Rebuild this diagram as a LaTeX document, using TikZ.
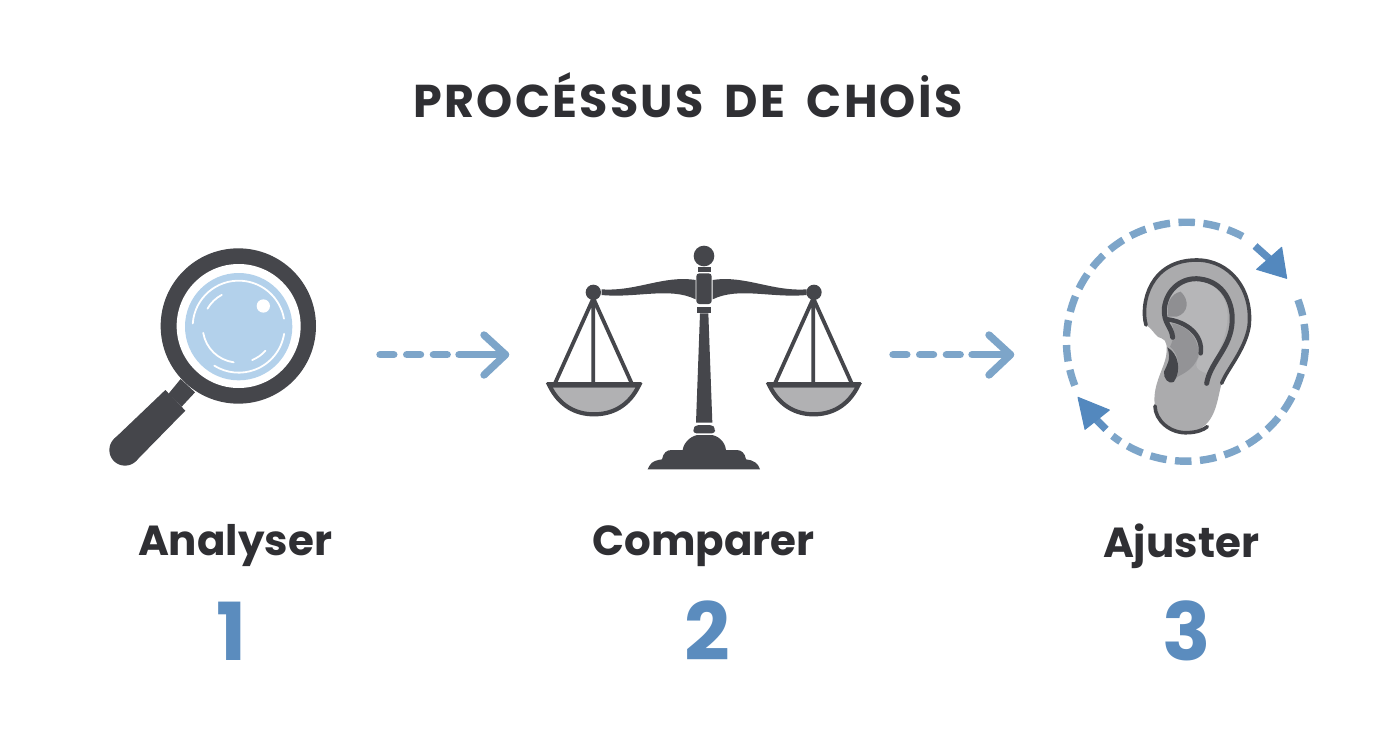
\documentclass[tikz,border=0pt]{standalone}
\usepackage{fontspec}
\setmainfont{Poppins}
\usetikzlibrary{calc}
\definecolor{ink}{HTML}{2F2F33}
\definecolor{dark}{HTML}{45464B}
\definecolor{numblue}{HTML}{5B8CBE}
\definecolor{dashblue}{HTML}{7DA5C9}
\definecolor{headblue}{HTML}{5388BE}
\definecolor{lens}{HTML}{B3D1EB}
\definecolor{pan}{HTML}{B1B1B3}
\definecolor{earfill}{HTML}{ABABAD}
\definecolor{earlight}{HTML}{B6B6B8}
\definecolor{earshade}{HTML}{8F8F92}
\tikzset{
  titletext/.style={font=\fontsize{46}{50}\selectfont\bfseries\addfontfeatures{LetterSpace=5},text=ink,inner sep=0pt},
  labeltext/.style={font=\fontsize{42}{46}\selectfont\bfseries,text=ink,inner sep=0pt},
  numtext/.style={font=\fontsize{80}{84}\selectfont\bfseries,text=numblue,inner sep=0pt},
  dashline/.style={draw=dashblue,line width=7.4pt,line cap=round,dash pattern=on 13.8pt off 12.9pt},
  solidline/.style={draw=dashblue,line width=7.4pt,line cap=round,line join=round},
  zoomed/.style={x=0.33333pt,y=-0.33333pt},
  string/.style={draw=dark,line width=3.8pt},
  earline/.style={draw=dark,line width=3.6pt,line cap=round},
  ringdash/.style={draw=dashblue,line width=7.4pt,dash pattern=on 16.5pt off 8.5pt},
  lensline/.style={white,line width=1.8pt,line cap=round},
  ringshaft/.style={draw=headblue!75!dashblue,line width=7.4pt},
  ringhead/.style={fill=headblue,draw=headblue,line width=1pt,line join=round},
}
\begin{document}
\begin{tikzpicture}[x=1pt,y=-1pt]
\useasboundingbox (0,0) rectangle (1392,752);
\fill[white] (0,0) rectangle (1392,752);

% ---- texts
\node[titletext] (title) at (688,95) {PROC\'ESSUS\hspace{9pt} DE\hspace{9pt} CHO\.IS};
\node[labeltext] (l1) at (235,546) {Analyser};
\node[labeltext] (l2) at (703.5,546) {Comparer};
\node[labeltext] (l3) at (1181,546) {Ajuster};
\node[numtext] (n1) at (232,631) {1};
\node[numtext] (n2) at (707,631) {2};
\node[numtext] (n3) at (1187,631) {3};

% ---- magnifier
\begin{scope}[shift={(90,230)},zoomed]
  \fill[dark] (272,447) -- (315,487) -- (275,530) -- (235,492) -- cycle;
  \fill[dark] (226,480) -- (286,542) -- (138,693) -- (72,627) -- cycle;
  \fill[dark] (105,660) circle (47);
  \fill[dark] (445,288) circle (233);
  \fill[white] (446,288) circle (186);
  \fill[lens] (446,290) circle (161);
  \draw[lensline] (446,290) ++(-176:138) arc[start angle=-176,end angle=-10,radius=138];
  \draw[lensline] (446,290) ++(9:138) arc[start angle=9,end angle=122,radius=138];
  \draw[lensline] (446,290) ++(170:108) arc[start angle=170,end angle=98,radius=108];
  \draw[lensline] (446,290) ++(68:108) arc[start angle=68,end angle=42,radius=108];
  \draw[lensline] (446,290) ++(-150:108) arc[start angle=-150,end angle=-118,radius=108];
  \fill[white] (520,228) circle (20);
\end{scope}

% ---- scales
\begin{scope}[shift={(530,230)},zoomed]
  \foreach \cx/\a/\b in {190/75/305,850/735/965}{
    \draw[string] (\cx,205) -- (\a,460) (\cx,205) -- (\cx,462) (\cx,205) -- (\b,460);
  }
  \foreach \l/\r/\cx in {50/335/192,710/993/851}{
    \draw[dark,fill=pan,line width=4.2pt] (\l+8,466) .. controls (\l+38,528) and (\l+88,553) .. (\cx,553) .. controls (\r-88,553) and (\r-38,528) .. (\r-8,466) -- cycle;
    \fill[dark] (\l,456) -- (\r,456) -- (\r-6,472) -- (\l+6,472) -- cycle;
  }
  \fill[dark] (215,178) .. controls (320,185) and (400,135) .. (497,150) -- (497,208) .. controls (420,170) and (320,205) .. (215,195) -- cycle;
  \fill[dark] (830,178) .. controls (725,185) and (645,135) .. (548,150) -- (548,208) .. controls (625,170) and (725,205) .. (830,195) -- cycle;
  \fill[dark] (190,187) circle (23);
  \fill[dark] (852,187) circle (23);
  \fill[dark] (522,78) circle (31);
  \fill[dark] (503,110) rectangle (543,125);
  \fill[dark,rounded corners=3pt] (499,130) rectangle (545,222);
  \fill[dark] (500,230) rectangle (543,248);
  \fill[dark] (510,250) -- (535,250) -- (547,578) -- (498,578) -- cycle;
  \fill[dark,rounded corners=3pt] (490,610) -- (490,595) -- (498,585) -- (547,585) -- (555,595) -- (555,610) -- cycle;
  \fill[dark] (353,718) -- (358,708) .. controls (365,692) and (385,690) .. (396,688)
     .. controls (400,668) and (410,660) .. (425,660) -- (458,660)
     .. controls (462,632) and (490,615) .. (505,615) -- (542,615)
     .. controls (560,615) and (585,632) .. (588,660) -- (620,660)
     .. controls (635,660) and (645,670) .. (648,688)
     .. controls (670,690) and (685,700) .. (690,718) -- cycle;
\end{scope}

% ---- ear
\begin{scope}[shift={(1050,210)},zoomed]
  \fill[earfill] (288,345) .. controls (270,280) and (300,150) .. (440,150) .. controls (540,150) and (610,240) .. (597,350) .. controls (585,420) and (530,480) .. (515,520) .. controls (500,570) and (500,650) .. (420,668) .. controls (360,672) and (315,640) .. (315,590) .. controls (305,530) and (340,480) .. (348,440) .. controls (352,415) and (352,390) .. (335,385) .. controls (318,385) and (312,360) .. (288,345) -- cycle;
  \fill[earlight] (362,350) .. controls (330,290) and (370,215) .. (440,212) .. controls (500,215) and (545,270) .. (530,350) .. controls (520,410) and (490,450) .. (470,490) .. controls (440,480) and (430,470) .. (448,440) .. controls (470,390) and (420,330) .. (362,325) -- cycle;
  \fill[earshade] (355,320) .. controls (345,280) and (365,250) .. (392,245) .. controls (420,270) and (415,310) .. (380,320) -- cycle;
  \fill[earshade!85!earfill] (365,340) .. controls (420,350) and (450,390) .. (445,440) .. controls (430,480) and (400,490) .. (375,505) .. controls (392,470) and (385,430) .. (360,410) .. controls (372,385) and (375,365) .. (365,340) -- cycle;
  \draw[earline] (288,345) .. controls (270,280) and (300,150) .. (440,150) .. controls (540,150) and (610,240) .. (597,350) .. controls (585,420) and (530,480) .. (515,520);
  \draw[earline] (315,588) .. controls (315,630) and (360,672) .. (415,668) .. controls (440,667) and (460,660) .. (472,650);
  \draw[earline,line width=5pt] (368,382) .. controls (365,350) and (340,340) .. (343,295) .. controls (350,235) and (400,200) .. (450,207) .. controls (520,215) and (555,280) .. (545,350) .. controls (535,420) and (480,460) .. (470,520);
  \draw[earline,line width=4.5pt] (352,328) .. controls (410,335) and (460,375) .. (452,430);
  \fill[dark] (352,412) .. controls (385,430) and (395,480) .. (372,515) .. controls (355,525) and (340,505) .. (342,485) .. controls (350,465) and (365,450) .. (352,412) -- cycle;
  % arrowheads of the cycle
  \coordinate (h1b) at (615,108);
  \coordinate (h1e) at (662,150);
  \draw[ringshaft] (h1b) -- (h1e);
  \fill[ringhead] (695,112) -- (710,205) -- (620,178) -- cycle;
  \coordinate (h2b) at (168,658);
  \coordinate (h2e) at (125,615);
  \draw[ringshaft] (h2b) -- (h2e);
  \fill[ringhead] (84,562) -- (178,600) -- (105,658) -- cycle;
\end{scope}

% ---- connectors
\coordinate (a1s) at (380,354.7);
\coordinate (a1m) at (456,354.7);
\coordinate (a1c) at (459,354.7);
\coordinate (a1t) at (505.5,354.7);
\coordinate (a1u) at (484,335);
\coordinate (a1d) at (484,375);
\draw[dashline] (a1s) -- (a1m);
\draw[solidline] (a1c) -- (a1t);
\draw[solidline] (a1u) -- (a1t) -- (a1d);
\coordinate (a2s) at (893,354.7);
\coordinate (a2m) at (969,354.7);
\coordinate (a2c) at (972,354.7);
\coordinate (a2t) at (1010.5,354.7);
\coordinate (a2u) at (989,335);
\coordinate (a2d) at (989,375);
\draw[dashline] (a2s) -- (a2m);
\draw[solidline] (a2c) -- (a2t);
\draw[solidline] (a2u) -- (a2t) -- (a2d);

% ---- cycle round the ear
\coordinate (cc) at (1186,341.7);
\draw[ringdash] ($(cc)+(20.5:119.5 and -119.5)$) arc[start angle=-20.5,end angle=128,radius=119.5];
\draw[ringdash] ($(cc)+(201.5:119.5 and -119.5)$) arc[start angle=158.5,end angle=302,radius=119.5];
\end{tikzpicture}
\end{document}
